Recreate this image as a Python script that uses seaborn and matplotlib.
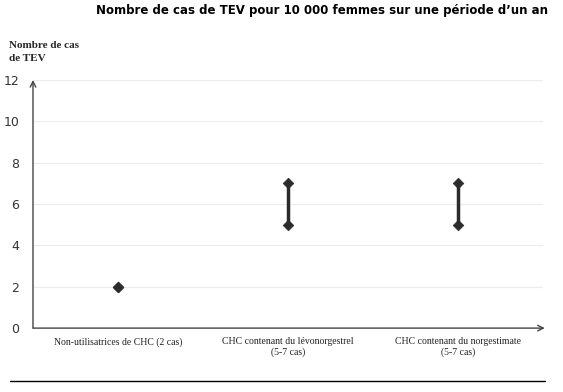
import numpy as np
import pandas as pd
import seaborn as sns
import matplotlib.pyplot as plt

# données
categories = ["Non-utilisatrices de CHC (2 cas)",
              "CHC contenant du lévonorgestrel\n(5-7 cas)",
              "CHC contenant du norgestimate\n(5-7 cas)"]
cas_min = [2, 5, 5]
cas_max = [2, 7, 7]
yticks = [0, 2, 4, 6, 8, 10, 12]

titre = "Nombre de cas de TEV pour 10 000 femmes sur une période d\u2019un an"
ylabel = "Nombre de cas\nde TEV"

sns.set_style("white")
plt.rcParams['font.family'] = ['DejaVu Sans']

pos = np.arange(len(categories)) + 0.5
df = pd.DataFrame({"pos": np.concatenate([pos, pos]),
                   "cas": cas_min + cas_max})

fig = plt.figure(figsize=(5.63, 3.92), dpi=100)
ax = fig.add_axes([0.0586, 0.163, 0.906, 0.633])

for y in yticks[1:]:
    ax.axhline(y, color="#ececec", lw=0.8, zorder=0)

ax.vlines(pos, cas_min, cas_max, color="#2b2b2b", lw=2.5, zorder=2)
sns.scatterplot(data=df, x="pos", y="cas", marker="D", s=30,
                color="#2b2b2b", edgecolor="#2b2b2b", ax=ax, zorder=3)

ax.set_xlim(0, len(categories))
ax.set_ylim(0, 12)
ax.set_yticks(yticks)
ax.set_yticklabels([str(v) for v in yticks], fontsize=9, color="#333333")
ax.set_xticks(np.arange(len(categories) + 1))
ax.set_xticklabels([])
ax.tick_params(axis="x", length=4, color="#444444", direction="out")
ax.tick_params(axis="y", length=4, color="#444444", direction="out", pad=6)
ax.set_xlabel("")
ax.set_ylabel("")
for p, lab in zip(pos, categories):
    ax.text(p, -0.45, lab, ha="center", va="top", fontsize=7,
            family="Liberation Serif", color="#222222")

for s in ["top", "right", "left", "bottom"]:
    ax.spines[s].set_visible(False)
ax.annotate("", xy=(0, 12.0), xytext=(0, 0), xycoords="data",
            arrowprops=dict(arrowstyle="->", color="#444444", lw=1.0,
                            shrinkA=0, shrinkB=0), annotation_clip=False)
ax.annotate("", xy=(3.01, 0), xytext=(0, 0), xycoords="data",
            arrowprops=dict(arrowstyle="->", color="#444444", lw=1.0,
                            shrinkA=0, shrinkB=0), annotation_clip=False)

fig.text(0.974, 0.972, titre, ha="right", va="center", fontsize=8.5,
         fontweight="bold", color="black")
fig.text(0.016, 0.867, ylabel, ha="left", va="center", fontsize=8,
         fontweight="bold", family="Liberation Serif", linespacing=1.5)
fig.add_artist(plt.Line2D([0.018, 0.968], [0.028, 0.028], color="black",
                          lw=1.0, transform=fig.transFigure))

fig.savefig("out.png", dpi=100)
